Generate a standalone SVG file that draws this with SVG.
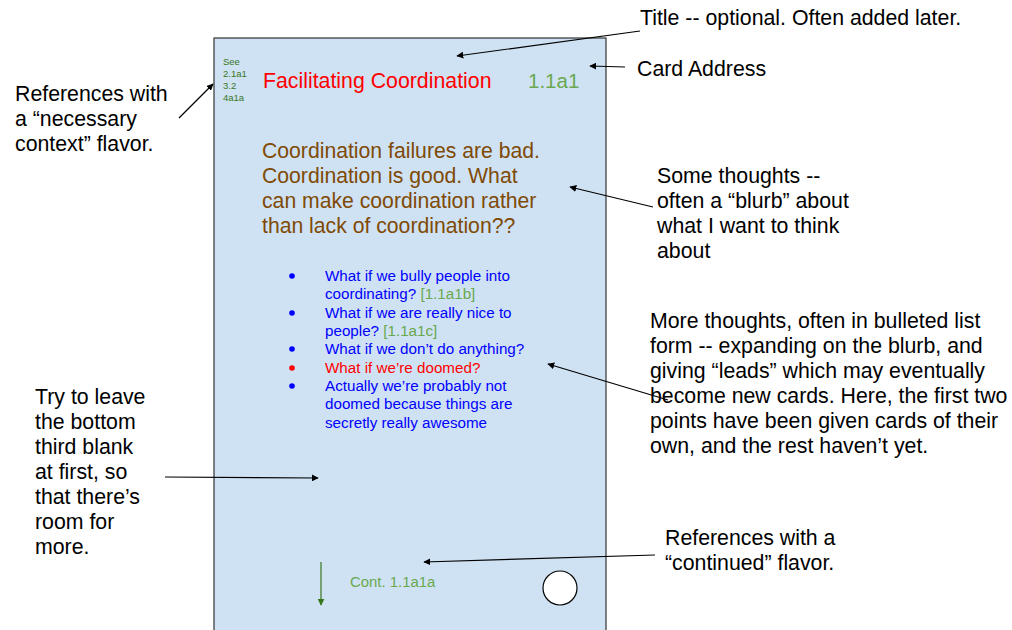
<svg xmlns="http://www.w3.org/2000/svg" width="1012" height="630" viewBox="0 0 1012 630">
<style>
text{font-family:"Liberation Sans",Arial,sans-serif}
.note{font-size:21.3px;fill:#000}
.brown{font-size:21.2px;fill:#7f4a06}
.li{font-size:15.2px;fill:#0000ff}
.grn{fill:#6aa84f}
.ref{font-size:9.5px;fill:#38761d}
.conn{stroke:#000;stroke-width:1.2;fill:none;marker-end:url(#ah)}
</style>
<defs>
<marker id="ah" viewBox="0 0 10 10" refX="9" refY="5" markerWidth="7" markerHeight="7" orient="auto" markerUnits="userSpaceOnUse">
<path d="M0,0 L10,5 L0,10 z" fill="#000"/>
</marker>
<marker id="ahg" viewBox="0 0 10 10" refX="9" refY="5" markerWidth="7" markerHeight="7" orient="auto" markerUnits="userSpaceOnUse">
<path d="M0,0 L10,5 L0,10 z" fill="#38761d"/>
</marker>
</defs>
<rect width="1012" height="630" fill="#fff"/>
<g id="card">
<rect x="214" y="38" width="392" height="600" fill="#cfe2f3" stroke="#333" stroke-width="1.2"/>
<text class="ref" x="223" y="65">See</text>
<text class="ref" x="223" y="77">2.1a1</text>
<text class="ref" x="223" y="89">3.2</text>
<text class="ref" x="223" y="101">4a1a</text>
<text x="263" y="88" font-size="21.3px" fill="#ff0000">Facilitating Coordination</text>
<text x="528" y="88" font-size="20.5px" class="grn">1.1a1</text>
<text class="brown" x="262" y="158">Coordination failures are bad.</text>
<text class="brown" x="262" y="183">Coordination is good. What</text>
<text class="brown" x="262" y="208">can make coordination rather</text>
<text class="brown" x="262" y="233">than lack of coordination??</text>
<g>
<circle cx="292" cy="276" r="2.8" fill="#0000ff"/>
<circle cx="292" cy="313" r="2.8" fill="#0000ff"/>
<circle cx="292" cy="349" r="2.8" fill="#0000ff"/>
<circle cx="292" cy="368" r="2.8" fill="#ff0000"/>
<circle cx="292" cy="386" r="2.8" fill="#0000ff"/>
<text class="li" x="325" y="281">What if we bully people into</text>
<text class="li" x="325" y="299">coordinating? <tspan class="grn">[1.1a1b]</tspan></text>
<text class="li" x="325" y="318">What if we are really nice to</text>
<text class="li" x="325" y="336">people? <tspan class="grn">[1.1a1c]</tspan></text>
<text class="li" x="325" y="354">What if we don’t do anything?</text>
<text class="li" x="325" y="373" style="fill:#ff0000">What if we’re doomed?</text>
<text class="li" x="325" y="391">Actually we’re probably not</text>
<text class="li" x="325" y="409">doomed because things are</text>
<text class="li" x="325" y="428">secretly really awesome</text>
</g>
<line x1="321" y1="562" x2="321" y2="605" stroke="#38761d" stroke-width="1.2" marker-end="url(#ahg)"/>
<text x="350" y="587" font-size="14.9px" class="grn">Cont. 1.1a1a</text>
<circle cx="560" cy="588" r="17" fill="#fff" stroke="#000" stroke-width="1.2"/>
</g>
<g id="label-title">
<text class="note" x="640" y="25">Title -- optional. Often added later.</text>
</g>
<g id="label-address">
<text class="note" x="637" y="76">Card Address</text>
</g>
<g id="label-refs">
<text class="note" x="15" y="101">References with</text>
<text class="note" x="15" y="126">a “necessary</text>
<text class="note" x="15" y="151">context” flavor.</text>
</g>
<g id="label-blurb">
<text class="note" x="657" y="183">Some thoughts --</text>
<text class="note" x="657" y="208">often a “blurb” about</text>
<text class="note" x="657" y="233">what I want to think</text>
<text class="note" x="657" y="258">about</text>
</g>
<g id="label-more">
<text class="note" x="650" y="328">More thoughts, often in bulleted list</text>
<text class="note" x="650" y="353">form -- expanding on the blurb, and</text>
<text class="note" x="650" y="378">giving “leads” which may eventually</text>
<text class="note" x="650" y="403">become new cards. Here, the first two</text>
<text class="note" x="650" y="428">points have been given cards of their</text>
<text class="note" x="650" y="453">own, and the rest haven’t yet.</text>
</g>
<g id="label-blank">
<text class="note" x="35" y="404">Try to leave</text>
<text class="note" x="35" y="429">the bottom</text>
<text class="note" x="35" y="454">third blank</text>
<text class="note" x="35" y="479">at first, so</text>
<text class="note" x="35" y="504">that there’s</text>
<text class="note" x="35" y="529">room for</text>
<text class="note" x="35" y="554">more.</text>
</g>
<g id="label-cont">
<text class="note" x="665" y="545">References with a</text>
<text class="note" x="665" y="570">“continued” flavor.</text>
</g>
<g id="connectors">
<line class="conn" x1="640" y1="31" x2="457" y2="56"/>
<line class="conn" x1="625" y1="67" x2="590" y2="66"/>
<line class="conn" x1="179" y1="118" x2="213" y2="84"/>
<line class="conn" x1="653" y1="207" x2="570" y2="187"/>
<line class="conn" x1="668" y1="400" x2="548" y2="364"/>
<line class="conn" x1="165" y1="477" x2="318" y2="478"/>
<line class="conn" x1="655" y1="555" x2="424" y2="562"/>
</g>
</svg>
